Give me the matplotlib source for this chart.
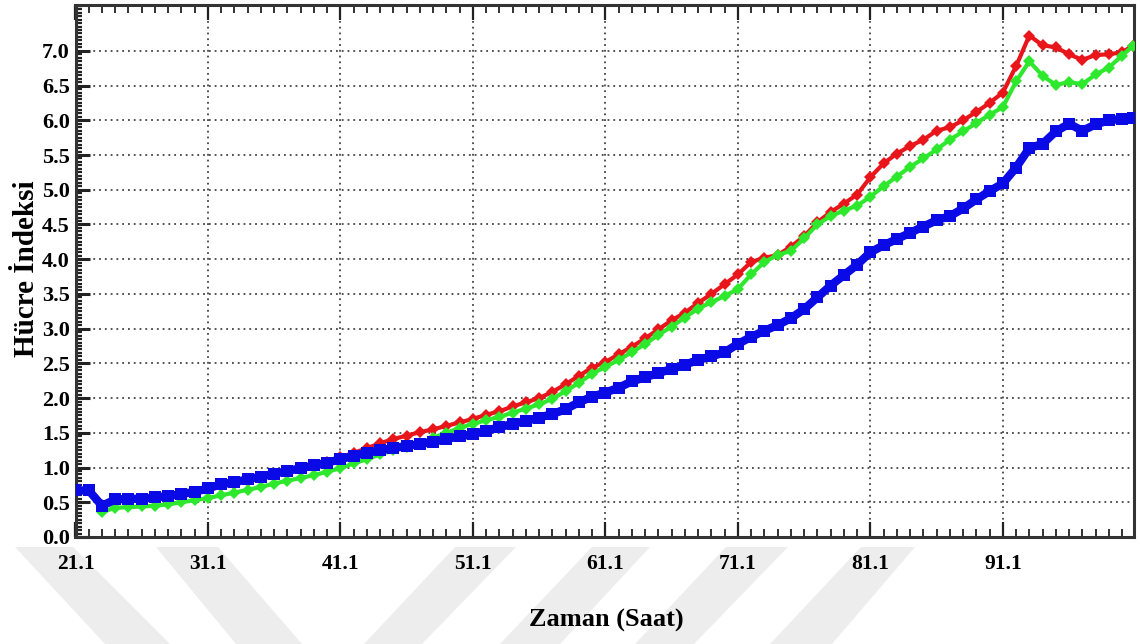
import numpy as np
import matplotlib
matplotlib.use("Agg")
import matplotlib.pyplot as plt
from matplotlib.patches import Polygon
from matplotlib.ticker import MultipleLocator, FixedLocator


plt.rcParams["font.family"] = ["Liberation Serif", "DejaVu Serif"]
plt.rcParams["font.weight"] = "bold"

# hourly readings (time in hours)
hours = [round(21.1 + i, 1) for i in range(80)] + [100.9]

blue_values = [
    0.67, 0.67, 0.45, 0.54, 0.55, 0.55, 0.57, 0.59, 0.62, 0.65,
    0.70, 0.76, 0.79, 0.83, 0.87, 0.91, 0.95, 0.99, 1.03, 1.07,
    1.12, 1.17, 1.21, 1.25, 1.28, 1.31, 1.34, 1.37, 1.41, 1.45,
    1.48, 1.53, 1.58, 1.63, 1.67, 1.72, 1.77, 1.84, 1.94, 2.02,
    2.08, 2.15, 2.24, 2.30, 2.36, 2.42, 2.48, 2.55, 2.60, 2.66,
    2.78, 2.88, 2.97, 3.05, 3.15, 3.28, 3.45, 3.62, 3.77, 3.92,
    4.10, 4.20, 4.29, 4.38, 4.47, 4.56, 4.62, 4.73, 4.86, 4.98,
    5.09, 5.32, 5.60, 5.66, 5.84, 5.95, 5.85, 5.94, 6.00, 6.02,
    6.04,
]

red_values = [
    np.nan, np.nan, 0.46, 0.52, 0.53, 0.53, 0.55, 0.58, 0.61, 0.64,
    0.68, 0.73, 0.77, 0.81, 0.86, 0.90, 0.95, 0.99, 1.03, 1.08,
    1.15, 1.21, 1.28, 1.35, 1.41, 1.46, 1.51, 1.55, 1.60, 1.65,
    1.70, 1.76, 1.81, 1.88, 1.94, 2.00, 2.09, 2.20, 2.32, 2.44,
    2.52, 2.63, 2.74, 2.86, 2.99, 3.12, 3.23, 3.37, 3.50, 3.64,
    3.78, 3.96, 4.02, 4.06, 4.18, 4.33, 4.53, 4.68, 4.80, 4.93,
    5.18, 5.38, 5.52, 5.63, 5.72, 5.85, 5.90, 6.00, 6.12, 6.25,
    6.40, 6.78, 7.22, 7.08, 7.05, 6.95, 6.87, 6.94, 6.95, 6.98,
    7.07,
]

green_values = [
    np.nan, np.nan, 0.36, 0.42, 0.43, 0.44, 0.45, 0.47, 0.50, 0.53,
    0.56, 0.60, 0.64, 0.68, 0.72, 0.77, 0.81, 0.85, 0.89, 0.94,
    0.99, 1.06, 1.12, 1.19, 1.25, 1.30, 1.36, 1.43, 1.50, 1.57,
    1.63, 1.68, 1.73, 1.79, 1.85, 1.91, 1.99, 2.10, 2.22, 2.35,
    2.45, 2.55, 2.66, 2.78, 2.91, 3.03, 3.16, 3.29, 3.38, 3.47,
    3.57, 3.78, 3.96, 4.06, 4.12, 4.30, 4.50, 4.62, 4.70, 4.77,
    4.90, 5.05, 5.19, 5.33, 5.45, 5.58, 5.72, 5.84, 5.96, 6.08,
    6.19, 6.56, 6.85, 6.64, 6.51, 6.55, 6.52, 6.66, 6.76, 6.93,
    7.07,
]

x_ticks = [21.1, 31.1, 41.1, 51.1, 61.1, 71.1, 81.1, 91.1]
y_ticks = [0.0, 0.5, 1.0, 1.5, 2.0, 2.5, 3.0, 3.5, 4.0, 4.5, 5.0, 5.5, 6.0, 6.5, 7.0]

W, H = 1140, 644
fig = plt.figure(figsize=(W / 100, H / 100), dpi=100)

# faint watermark bands below the plot (pixel corners: top-left, top-right, bottom-right, bottom-left)
bands = [
    [(15, 547), (73, 547), (170, 644), (105, 644)],
    [(156, 547), (218, 547), (302, 644), (236, 644)],
    [(455, 547), (516, 547), (422, 644), (364, 644)],
    [(592, 547), (650, 547), (560, 644), (500, 644)],
    [(726, 547), (788, 547), (694, 644), (635, 644)],
    [(861, 547), (915, 547), (832, 644), (770, 644)],
]
for band in bands:
    pts = [(px / W, 1 - py / H) for px, py in band]
    fig.patches.append(Polygon(pts, closed=True, transform=fig.transFigure,
                               facecolor="#ededed", edgecolor="none", zorder=-10))

ax = fig.add_axes([75.5 / W, 1 - 537 / H, (1134 - 75.5) / W, (537 - 5) / H])

ax.plot(hours, red_values, color="#e8151b", lw=3, marker="D", markersize=6,
        markeredgewidth=0, zorder=3)
ax.plot(hours, green_values, color="#2ee82e", lw=3, marker="D", markersize=6,
        markeredgewidth=0, zorder=4)
ax.plot(hours, blue_values, color="#0a0ae6", lw=6, marker="s", markersize=8,
        markeredgewidth=0, zorder=5)

ax.set_xlim(21.1, 101.0)
ax.set_ylim(0.0, 7.66)

ax.xaxis.set_major_locator(FixedLocator(x_ticks))
ax.set_xticklabels([f"{v:.1f}" for v in x_ticks])
ax.xaxis.set_minor_locator(MultipleLocator(1.0, offset=0.1))
ax.yaxis.set_major_locator(FixedLocator(y_ticks))
ax.set_yticklabels([f"{v:.1f}" for v in y_ticks])
ax.yaxis.set_minor_locator(MultipleLocator(0.05))

ax.tick_params(axis="x", which="major", direction="in", length=11, width=1.6,
               top=True, bottom=True, pad=12, labelsize=15.5, colors="#222222")
ax.tick_params(axis="x", which="minor", direction="in", length=6, width=1.3,
               top=True, bottom=True, colors="#222222")
ax.tick_params(axis="y", which="major", direction="in", length=10, width=2.2,
               left=True, right=False, pad=4, labelsize=16, colors="#222222")
ax.tick_params(axis="y", which="minor", direction="in", length=4, width=1.6,
               left=True, right=False, colors="#222222")
for lbl in ax.get_xticklabels() + ax.get_yticklabels():
    lbl.set_color("black")
    lbl.set_fontweight("bold")

ax.grid(True, which="major", color="#444444", linestyle=(0, (1, 2.2)), linewidth=1.3)
ax.set_axisbelow(True)

for side in ax.spines.values():
    side.set_linewidth(2.2)
    side.set_color("#333333")

fig.text(606 / W, 1 - 620 / H, "Zaman (Saat)", ha="center", va="center",
         fontsize=19, fontweight="bold")
fig.text(27 / W, 1 - 269 / H, "Hücre İndeksi", ha="center", va="center",
         rotation=90, fontsize=21, fontweight="bold")

fig.savefig("out.png", dpi=100)
